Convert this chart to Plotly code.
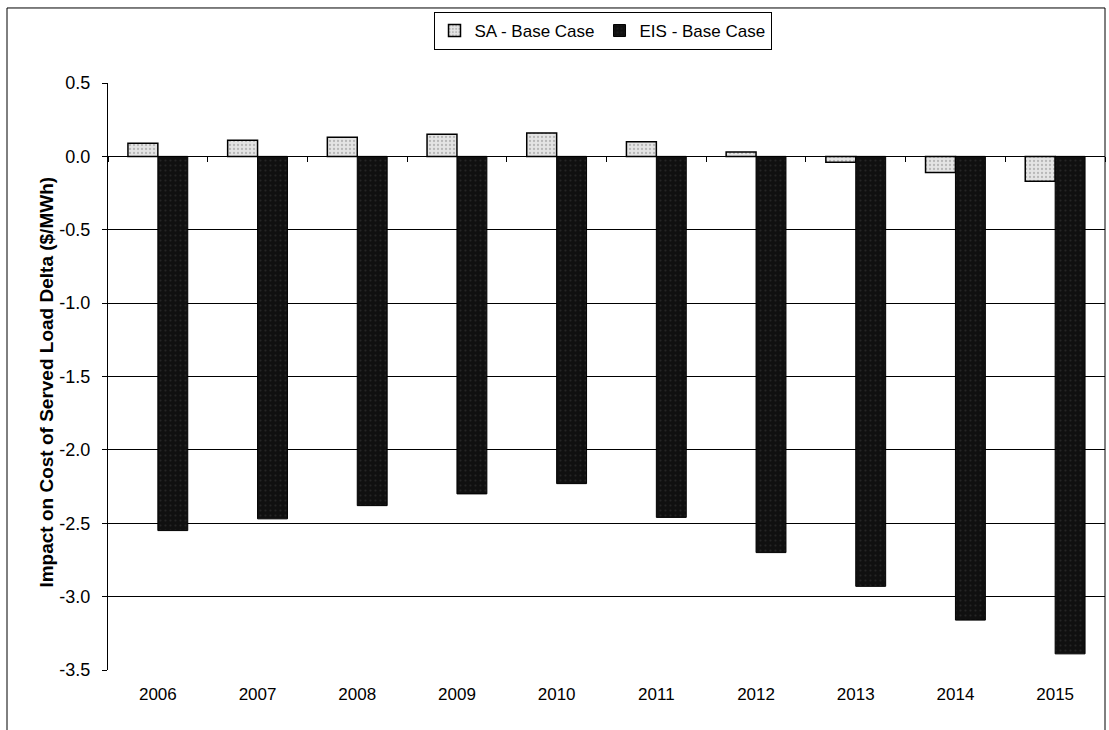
import plotly.graph_objects as go

years = ["2006", "2007", "2008", "2009", "2010", "2011", "2012", "2013", "2014", "2015"]
sa_base = [0.09, 0.11, 0.13, 0.15, 0.16, 0.10, 0.03, -0.04, -0.11, -0.17]
eis_base = [-2.55, -2.47, -2.38, -2.30, -2.23, -2.46, -2.70, -2.93, -3.16, -3.39]
y_ticks = [0.5, 0.0, -0.5, -1.0, -1.5, -2.0, -2.5, -3.0, -3.5]
y_tick_labels = ["0.5", "0.0", "-0.5", "-1.0", "-1.5", "-2.0", "-2.5", "-3.0", "-3.5"]
y_title = "Impact on Cost of Served Load Delta ($/MWh)"

FONT = "Liberation Sans, Arial, sans-serif"

fig = go.Figure()
fig.add_trace(go.Bar(
    x=years, y=sa_base, name="SA - Base Case",
    marker=dict(color="#dcdcdc", line=dict(color="black", width=1.5),
                pattern=dict(shape=".", fgcolor="#8a8a8a", bgcolor="#e4e4e4", size=4, solidity=0.25)),
))
fig.add_trace(go.Bar(
    x=years, y=eis_base, name="EIS - Base Case",
    marker=dict(color="#111111", line=dict(color="black", width=1),
                pattern=dict(shape=".", fgcolor="#3a3a3a", bgcolor="#101010", size=5, solidity=0.15)),
))
# helper trace for the category axis drawn along zero
fig.add_trace(go.Scatter(x=years, y=[None] * len(years), xaxis="x2", showlegend=False,
                         hoverinfo="skip", mode="markers"))

fig.update_layout(
    width=1109, height=730,
    margin=dict(l=108, r=4, t=83, b=60),
    paper_bgcolor="white", plot_bgcolor="white",
    barmode="group", bargap=0.4, bargroupgap=0,
    font=dict(family=FONT, size=18, color="black"),
    legend=dict(orientation="h", x=0.496, xanchor="center", y=1.121, yanchor="top",
                bordercolor="black", borderwidth=1, font=dict(size=17, family=FONT),
                itemwidth=30, tracegroupgap=0, traceorder="normal"),
    xaxis=dict(type="category", categoryorder="array", categoryarray=years,
               range=[-0.5, 9.5], showline=False, showgrid=False, ticks="",
               tickfont=dict(size=17, family=FONT), ticklabelstandoff=12),
    xaxis2=dict(type="category", categoryorder="array", categoryarray=years,
                range=[-0.5, 9.5], overlaying="x", anchor="free", position=0.876,
                showline=True, linecolor="black", linewidth=1, ticks="outside",
                tickson="boundaries", ticklen=5, tickcolor="black", showticklabels=False,
                showgrid=False),
    yaxis=dict(range=[-3.5, 0.5], tickvals=y_ticks, ticktext=y_tick_labels,
               showgrid=True, gridcolor="black", gridwidth=1,
               zeroline=True, zerolinecolor="black", zerolinewidth=1,
               showline=True, linecolor="black", linewidth=1,
               ticks="outside", ticklen=5, tickcolor="black",
               tickfont=dict(size=18, family=FONT), ticklabelstandoff=8),
    annotations=[dict(text="<b>" + y_title + "</b>", xref="paper", yref="paper",
                      x=-0.062, y=0.49, xanchor="center", yanchor="middle",
                      textangle=-90, showarrow=False, font=dict(size=19, family=FONT))],
    shapes=[dict(type="rect", xref="paper", yref="paper",
                 x0=-0.1013, x1=1.0, y0=-0.2, y1=1.1278,
                 line=dict(color="black", width=1), fillcolor="rgba(0,0,0,0)", layer="below")],
)

fig.write_html("out.html", config={"displayModeBar": False},
               post_script="document.body.style.margin='0';document.body.style.overflow='hidden';")
